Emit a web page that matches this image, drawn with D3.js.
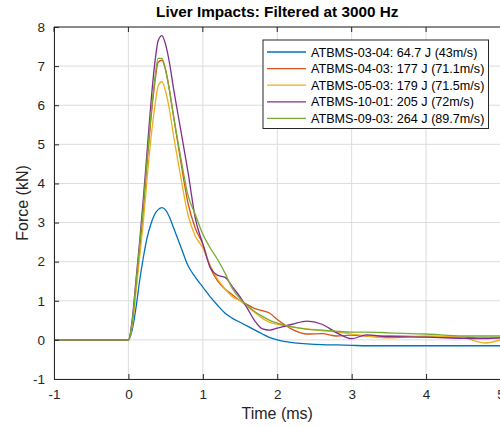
<!DOCTYPE html>
<html>
<head>
<meta charset="utf-8">
<script src="https://cdn.jsdelivr.net/npm/d3@7"></script>
<style>
  body { margin: 0; background: #fff; }
  svg { font-family: "Liberation Sans", Arial, sans-serif; }
</style>
</head>
<body>
<div id="chart"></div>
<script>
// shared time grid (ms)
var time = [-1, 0, 0.05, 0.1, 0.15, 0.2, 0.25, 0.3, 0.35, 0.4, 0.45, 0.5, 0.55, 0.6, 0.7, 0.8, 0.9,
    1.0, 1.1, 1.2, 1.3, 1.4, 1.5, 1.6, 1.7, 1.8, 1.9, 2.0, 2.2, 2.4, 2.6, 2.8, 3.0, 3.2, 3.5, 4.0, 4.5, 4.8, 5.0];

var names = [
    "ATBMS-03-04: 64.7 J (43m/s)",
    "ATBMS-04-03: 177 J (71.1m/s)",
    "ATBMS-05-03: 179 J (71.5m/s)",
    "ATBMS-10-01: 205 J (72m/s)",
    "ATBMS-09-03: 264 J (89.7m/s)"
];
var colors = ["#0072BD", "#D95319", "#EDB120", "#7E2F8E", "#77AC30"];

var force0304 = [0, 0, 0.25, 0.8, 1.5, 2.1, 2.6, 2.95, 3.2, 3.33, 3.38, 3.32, 3.15, 2.9, 2.4, 1.9, 1.6,
    1.35, 1.1, 0.88, 0.68, 0.55, 0.45, 0.35, 0.25, 0.15, 0.06, 0.0, -0.07, -0.1, -0.12, -0.13, -0.14, -0.15, -0.15, -0.15, -0.15, -0.15, -0.15];
var force0403 = [0, 0, 0.4, 1.3, 2.3, 3.3, 4.5, 5.6, 6.5, 7.1, 7.15, 6.9, 6.4, 5.8, 4.6, 3.5, 2.85,
    2.45, 1.85, 1.5, 1.3, 1.15, 1.0, 0.9, 0.8, 0.75, 0.68, 0.52, 0.27, 0.15, 0.16, 0.1, 0.12, 0.1, 0.1, 0.08, 0.07, 0.05, 0.05];
var force0503 = [0, 0, 0.35, 1.2, 2.1, 3.0, 4.1, 5.1, 5.9, 6.5, 6.6, 6.35, 5.9, 5.3, 4.2, 3.2, 2.65,
    2.35, 1.9, 1.55, 1.3, 1.1, 1.0, 0.85, 0.7, 0.55, 0.45, 0.4, 0.33, 0.28, 0.24, 0.2, 0.15, 0.1, 0.05, 0.1, 0.05, -0.08, 0.0];
var force1001 = [0, 0, 0.5, 1.5, 2.5, 3.6, 4.8, 6.0, 7.0, 7.65, 7.78, 7.55, 7.1, 6.5, 5.4, 4.3, 3.1,
    2.45, 1.85, 1.65, 1.6, 1.35, 1.1, 0.8, 0.48, 0.28, 0.25, 0.3, 0.4, 0.48, 0.4, 0.18, 0.03, 0.13, 0.08, 0.07, 0.04, 0.03, 0.05];
var force0903 = [0, 0, 0.45, 1.4, 2.4, 3.4, 4.6, 5.7, 6.6, 7.2, 7.2, 6.9, 6.4, 5.8, 4.7, 3.7, 3.2,
    2.7, 2.35, 2.05, 1.7, 1.3, 1.05, 0.88, 0.72, 0.6, 0.5, 0.43, 0.33, 0.27, 0.25, 0.22, 0.2, 0.2, 0.18, 0.15, 0.1, 0.1, 0.1];
var allForces = [force0304, force0403, force0503, force1001, force0903];

var xTicks = [-1, 0, 1, 2, 3, 4, 5];
var yTicks = [-1, 0, 1, 2, 3, 4, 5, 6, 7, 8];

var W = 500, H = 427;
var margin = { top: 27, right: 0, bottom: 48, left: 54 };
var width = 446.5, height = H - margin.top - margin.bottom;

var svg = d3.select("#chart").append("svg")
    .attr("width", W).attr("height", H);
var g = svg.append("g")
    .attr("transform", "translate(" + margin.left + "," + margin.top + ")");

var x = d3.scaleLinear().domain([-1, 5]).range([0, width]);
var y = d3.scaleLinear().domain([-1, 8]).range([height, 0]);

// grid
g.append("g").selectAll("line").data(xTicks).enter().append("line")
    .attr("x1", function (d) { return x(d) }).attr("x2", function (d) { return x(d) })
    .attr("y1", 0).attr("y2", height)
    .attr("stroke", "#dcdcdc").attr("stroke-width", 1);
g.append("g").selectAll("line").data(yTicks).enter().append("line")
    .attr("y1", function (d) { return y(d) }).attr("y2", function (d) { return y(d) })
    .attr("x1", 0).attr("x2", width)
    .attr("stroke", "#dcdcdc").attr("stroke-width", 1);

// lines
var line = d3.line()
    .x(function (d) { return x(d[0]) })
    .y(function (d) { return y(d[1]) })
    .curve(d3.curveMonotoneX);

allForces.forEach(function (f, i) {
    g.append("path")
        .datum(time.map(function (t, k) { return [t, f[k]] }))
        .attr("d", line)
        .attr("fill", "none")
        .attr("stroke", colors[i])
        .attr("stroke-width", 1.3);
});

// axes
var axisColor = "#262626";
var fmt = function (d) { return String(d) };
var xAxis = g.append("g").attr("transform", "translate(0," + height + ")")
    .call(d3.axisBottom(x).tickValues(xTicks).tickFormat(fmt).tickSizeInner(-5).tickSizeOuter(0).tickPadding(10));
var yAxis = g.append("g")
    .call(d3.axisLeft(y).tickValues(yTicks).tickFormat(fmt).tickSizeInner(-5).tickSizeOuter(0).tickPadding(9));
[xAxis, yAxis].forEach(function (a) {
    a.select(".domain").attr("stroke", axisColor).attr("stroke-width", 1);
    a.selectAll(".tick line").attr("stroke", axisColor);
    a.selectAll(".tick text").attr("fill", axisColor).style("font-size", "13.5px")
        .style("font-family", "'Liberation Sans', Arial, sans-serif");
});
// top border
g.append("line").attr("x1", 0).attr("x2", width).attr("y1", 0).attr("y2", 0)
    .attr("stroke", axisColor);
g.append("g").selectAll("line").data(xTicks).enter().append("line")
    .attr("x1", function (d) { return x(d) }).attr("x2", function (d) { return x(d) })
    .attr("y1", 0).attr("y2", 5).attr("stroke", axisColor);

// labels
svg.append("text").attr("x", margin.left + width / 2).attr("y", 17)
    .attr("text-anchor", "middle").style("font-weight", "bold").style("font-size", "15.3px")
    .attr("fill", "#000").text("Liver Impacts: Filtered at 3000 Hz");
svg.append("text").attr("x", margin.left + width / 2).attr("y", 419)
    .attr("text-anchor", "middle").style("font-size", "16px")
    .attr("fill", axisColor).text("Time (ms)");
svg.append("text").attr("transform", "translate(28," + (margin.top + height / 2) + ") rotate(-90)")
    .attr("text-anchor", "middle").style("font-size", "16px")
    .attr("fill", axisColor).text("Force (kN)");

// legend
var lg = svg.append("g").attr("transform", "translate(263,40)");
lg.append("rect").attr("width", 225.5).attr("height", 88.5)
    .attr("fill", "#fff").attr("stroke", axisColor).attr("stroke-width", 1);
names.forEach(function (n, i) {
    var yy = 12 + i * 16.6;
    lg.append("line").attr("x1", 4).attr("x2", 43).attr("y1", yy).attr("y2", yy)
        .attr("stroke", colors[i]).attr("stroke-width", 1.3);
    lg.append("text").attr("x", 48).attr("y", yy + 4.5).style("font-size", "12.6px")
        .attr("fill", "#000").text(n);
});
</script>
</body>
</html>
